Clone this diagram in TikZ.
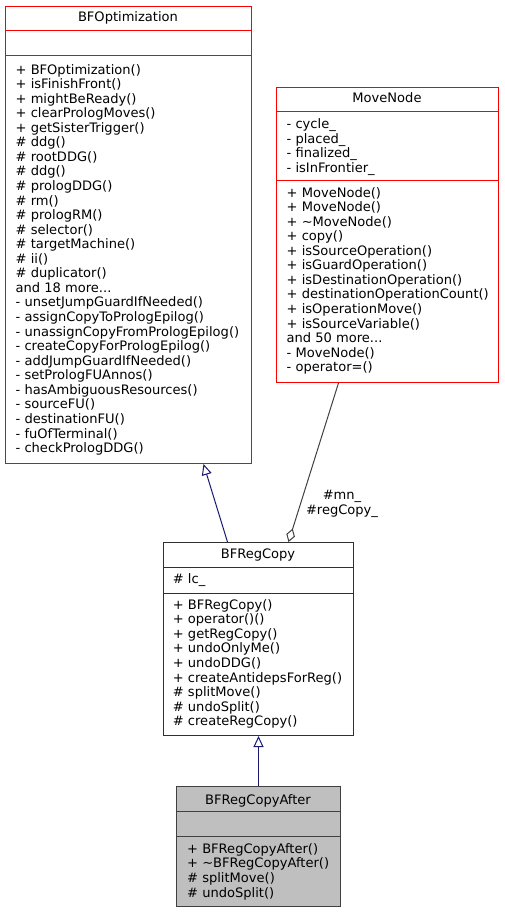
\documentclass[tikz,border=0pt]{standalone}
\usepackage{fontspec}
\setmainfont{DejaVu Sans}
\usetikzlibrary{arrows.meta,calc}
\definecolor{doxred}{RGB}{255,0,0}
\definecolor{doxnavy}{RGB}{25,25,112}
\definecolor{doxgrey}{RGB}{64,64,64}
\definecolor{doxborder}{RGB}{48,48,48}
\definecolor{doxfill}{RGB}{191,191,191}
\newcommand{\doxfont}{\fontsize{13.05}{14.56}\selectfont}

\begin{document}
\begin{tikzpicture}[x=1pt, y=1pt,
    classbox/.style={rectangle, draw=#1, line width=1pt, inner sep=0pt, anchor=north west},
    classtitle/.style={anchor=base, inner sep=0pt, font=\doxfont},
    members/.style={anchor=north west, inner sep=0pt, align=left, font=\doxfont},
    inherit/.style={draw=doxnavy, line width=1pt, -{Triangle[open, length=11pt, width=10pt]}},
    usage/.style={draw=doxgrey, line width=1pt, -{Diamond[open, length=14pt, width=9pt]}},
]
    \useasboundingbox (0,0) rectangle (504,-912);

    % BFOptimization
    \node[classbox=doxred, minimum width=246pt, minimum height=457pt] (bfopt) at (5,-6) {};
    \node[classtitle] (bfopt-title) at (128,-22) {BFOptimization};
    \draw[doxred, line width=1pt] (bfopt.west |- 0,-31) -- (bfopt.east |- 0,-31);
    \draw[doxred, line width=1pt] (bfopt.west |- 0,-56) -- (bfopt.east |- 0,-56);
    \node[members] (bfopt-ops) at (15.5,-63.9) {+ BFOptimization()\\+ isFinishFront()\\+ mightBeReady()\\+ clearPrologMoves()\\+ getSisterTrigger()\\\# ddg()\\\# rootDDG()\\\# ddg()\\\# prologDDG()\\\# rm()\\\# prologRM()\\\# selector()\\\# targetMachine()\\\# ii()\\\# duplicator()\\and 18 more...\\- unsetJumpGuardIfNeeded()\\- assignCopyToPrologEpilog()\\- unassignCopyFromPrologEpilog()\\- createCopyForPrologEpilog()\\- addJumpGuardIfNeeded()\\- setPrologFUAnnos()\\- hasAmbiguousResources()\\- sourceFU()\\- destinationFU()\\- fuOfTerminal()\\- checkPrologDDG()};

    % MoveNode
    \node[classbox=doxred, minimum width=222pt, minimum height=295pt] (movenode) at (276,-87) {};
    \node[classtitle] (movenode-title) at (387,-102.6) {MoveNode};
    \draw[doxred, line width=1pt] (movenode.west |- 0,-112) -- (movenode.east |- 0,-112);
    \draw[doxred, line width=1pt] (movenode.west |- 0,-181) -- (movenode.east |- 0,-181);
    \node[members] (movenode-attr) at (286.5,-118.5) {- cycle\_\\- placed\_\\- finalized\_\\- isInFrontier\_};
    \node[members] (movenode-ops) at (286.5,-186.9) {+ MoveNode()\\+ MoveNode()\\+ \textasciitilde MoveNode()\\+ copy()\\+ isSourceOperation()\\+ isGuardOperation()\\+ isDestinationOperation()\\+ destinationOperationCount()\\+ isOperationMove()\\+ isSourceVariable()\\and 50 more...\\- MoveNode()\\- operator=()};

    % BFRegCopy
    \node[classbox=doxborder, minimum width=190pt, minimum height=193pt] (regcopy) at (163,-542) {};
    \node[classtitle] (regcopy-title) at (258,-558.6) {BFRegCopy};
    \draw[doxborder, line width=1pt] (regcopy.west |- 0,-567.3) -- (regcopy.east |- 0,-567.3);
    \draw[doxborder, line width=1pt] (regcopy.west |- 0,-593.3) -- (regcopy.east |- 0,-593.3);
    \node[members] (regcopy-attr) at (172.7,-573.2) {\# lc\_};
    \node[members] (regcopy-ops) at (172.7,-599.2) {+ BFRegCopy()\\+ operator()()\\+ getRegCopy()\\+ undoOnlyMe()\\+ undoDDG()\\+ createAntidepsForReg()\\\# splitMove()\\\# undoSplit()\\\# createRegCopy()};

    % BFRegCopyAfter
    \node[classbox=doxgrey, fill=doxfill, minimum width=164pt, minimum height=120pt] (after) at (176,-786) {};
    \node[classtitle] (after-title) at (258,-804.3) {BFRegCopyAfter};
    \draw[doxgrey, line width=1pt] (after.west |- 0,-811.5) -- (after.east |- 0,-811.5);
    \draw[doxgrey, line width=1pt] (after.west |- 0,-836.3) -- (after.east |- 0,-836.3);
    \node[members] (after-ops) at (187,-843.2) {+ BFRegCopyAfter()\\+ \textasciitilde BFRegCopyAfter()\\\# splitMove()\\\# undoSplit()};

    % Connectors
    \draw[inherit] ([xshift=-31pt]regcopy.north) -- ([xshift=75pt]bfopt.south);
    \draw[usage] ([xshift=-49pt]movenode.south) -- ([xshift=30pt]regcopy.north);
    \draw[inherit] (after.north) -- (regcopy.south);
    \node[members, anchor=north, align=center] (usage-label) at (342,-490) {\#mn\_\\\#regCopy\_};
\end{tikzpicture}
\end{document}
